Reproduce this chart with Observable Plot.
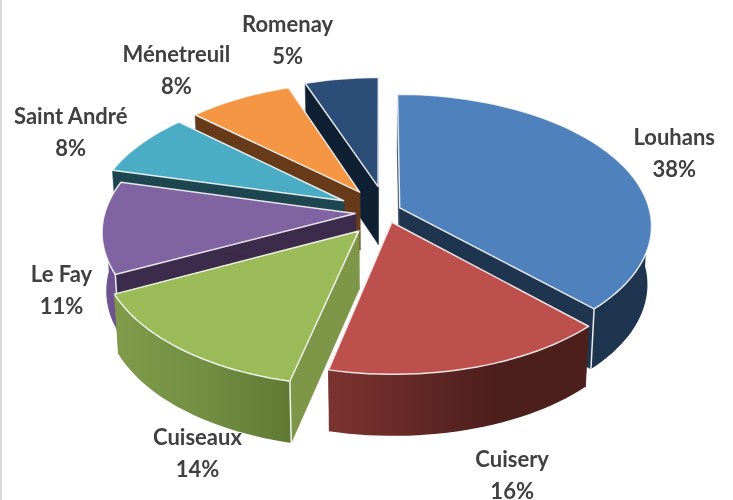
<!DOCTYPE html>
<html><head><meta charset="utf-8">
<script src="https://cdn.jsdelivr.net/npm/d3@7"></script>
<script src="https://cdn.jsdelivr.net/npm/@observablehq/plot@0.6"></script>
<style>html,body{margin:0;padding:0;background:#fff;overflow:hidden}
#strip{position:absolute;left:0;top:0;width:2px;height:500px;background:#d9d9d9}
#c{position:absolute;left:0;top:0;width:733px;height:500px}
#c svg{filter:blur(0.4px)}</style>
</head><body><div id="c"></div><div id="strip"></div>
<script>
const communes = ["Louhans","Cuisery","Cuiseaux","Le Fay","Saint André","Ménetreuil","Romenay"];
const shares = [37.65,15.95,14.1,11.3,7.83,7.72,5.45];
const topColors = ["#4f81bd","#bd504c","#9bbb59","#8064a2","#4bacc6","#f59645","#2c4d77"];
const faceColors = ["#1e344f","#4c1e1c","#7e9648","#3c2b4a","#1d4650","#673a1a","#0f2033"];
const wallColors = ["#1e344f","url(#gCuisery)","url(#gCuiseaux)","#6d5390","#1d4650","#673a1a","#0f2033"];
// layout only: how far each slice is pulled out, and where its label sits
const explodeX = [0.077,0.045,-0.085,-0.10,-0.149,-0.085,-0.01];
const explodeY = [0.02,-0.09,-0.155,-0.023,0.076,0.145,0.19];
const labelAngle = [69.8,165.3,201.7,244.6,295.5,322.4,343.9];
const labelRadius = [1.262,2.092,1.996,1.424,1.384,1.349,1.351];
const paintOrder = ["Romenay","Ménetreuil","Saint André","Le Fay","Louhans","Cuiseaux","Cuisery"];

// tilted-disc projection
const W=733,H=500,cx=380,cy=210,A=129,B=250,persp=0.13,depth=0.45,shrink=0.985;
const proj=(X,Y,low)=>{const d=1+persp*Y;
  const u=X/d, v=Y/d;
  return low?{x:u*shrink,y:v-depth/(1+persp*0.4*Y)}:{x:u,y:v};};
const rad=d=>d*Math.PI/180;
const pie=d3.pie().sort(null).value(d=>d)(shares);
const slices=communes.map((name,i)=>({name,i,a0:pie[i].startAngle,a1:pie[i].endAngle,ox:explodeX[i],oy:explodeY[i]}));
const arc=(s,from,to)=>{const n=Math.max(2,Math.ceil((to-from)/rad(2)));
  return d3.range(n+1).map(k=>{const t=from+(to-from)*k/n;return [s.ox+Math.sin(t),s.oy+Math.cos(t)];});};
const marks=[];
const poly=(pts,o)=>marks.push(Plot.line(pts,{x:"x",y:"y",curve:"linear-closed",...o}));
for(const name of paintOrder){
  const s=slices.find(d=>d.name===name);
  const c=[s.ox,s.oy];
  for(const t of [s.a0,s.a1]){
    const e=[s.ox+Math.sin(t),s.oy+Math.cos(t)];
    poly([proj(...c),proj(...e),proj(...e,true),proj(...c,true)],{fill:faceColors[s.i],stroke:faceColors[s.i],strokeWidth:0.5});
  }
  const f=Math.max(s.a0,Math.PI/2),g=Math.min(s.a1,Math.PI*1.5);
  if(g>f){
    const a=arc(s,f,g);
    poly([...a.map(p=>proj(...p)),...a.slice().reverse().map(p=>proj(...p,true))],{fill:wallColors[s.i]});
    for(const t of [s.a0,s.a1]){
      const n=t===s.a0?t-Math.PI/2:t+Math.PI/2;
      if(t>=f&&t<=g&&Math.cos(n)<0){
        const e=[s.ox+Math.sin(t),s.oy+Math.cos(t)];
        marks.push(Plot.line([proj(...e),proj(...e,true)],{x:"x",y:"y",stroke:"#fff",strokeWidth:1.5,strokeOpacity:.9}));
      }
    }
  }
  poly([proj(...c),...arc(s,s.a0,s.a1).map(p=>proj(...p))],{fill:topColors[s.i],stroke:"#fff",strokeWidth:1.5,strokeOpacity:.85,strokeLinejoin:"round"});
}
const labels=communes.map((name,i)=>({text:`${name}\n${Math.round(shares[i])}%`,
  x:labelRadius[i]*Math.sin(rad(labelAngle[i]))*248/B,
  y:labelRadius[i]*Math.cos(rad(labelAngle[i]))*131/A}));
marks.push(Plot.text(labels,{x:"x",y:"y",text:"text",dy:-3,fontSize:22,fontWeight:700,fontFamily:"Lato",fill:"#404040",lineHeight:1.45,textAnchor:"middle"}));
const svg=Plot.plot({width:W,height:H,margin:0,
  x:{domain:[-cx/B,(W-cx)/B],range:[0,W],axis:null},
  y:{domain:[cy/A,-(H-cy)/A],range:[0,H],axis:null},
  style:{background:"transparent"},
  marks});
const defs=d3.create("svg:defs");
const grad=(id,stops)=>{const g=defs.append("linearGradient").attr("id",id);
  stops.forEach(([o,c])=>g.append("stop").attr("offset",o).attr("stop-color",c));};
grad("gCuisery",[[0,"#7c3330"],[0.65,"#4c1e1c"],[1,"#4c1e1c"]]);
grad("gCuiseaux",[[0,"#7f9b4a"],[0.5,"#728f43"],[1,"#607a34"]]);
svg.prepend(defs.node());
document.getElementById("c").append(svg);
</script></body></html>
